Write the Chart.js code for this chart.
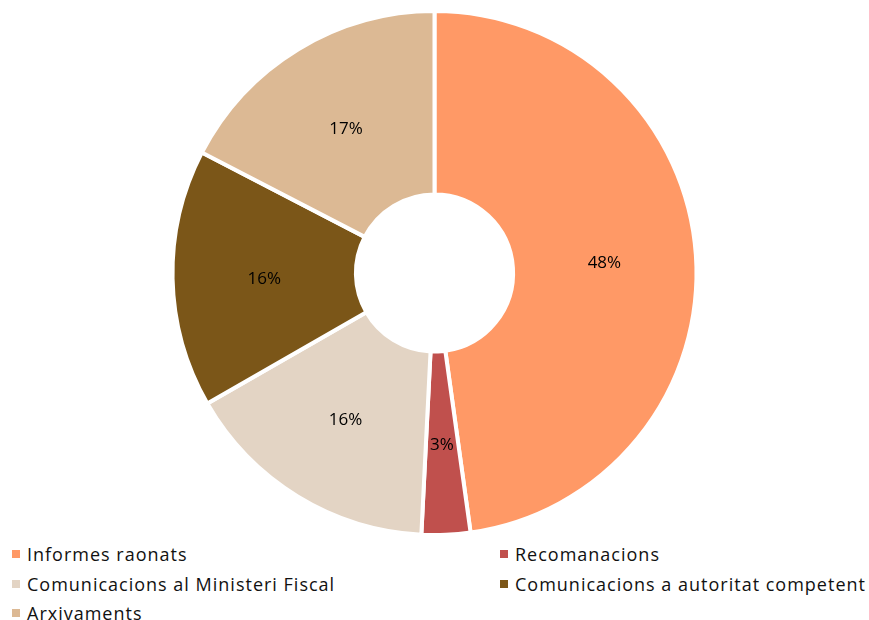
<!DOCTYPE html>
<html>
<head>
<meta charset="utf-8">
<script src="https://cdn.jsdelivr.net/npm/chart.js@4/dist/chart.umd.min.js"></script>
<style>
  html,body{margin:0;padding:0;background:#fff;}
  #wrap{position:relative;width:869px;height:537px;}
  #legend{position:absolute;left:0;top:540px;width:869px;font-family:"Open Sans",sans-serif;font-size:18px;letter-spacing:1px;color:#111;}
  .li{position:absolute;white-space:nowrap;line-height:22px;}
  .sw{display:inline-block;width:8px;height:8px;margin-right:7px;vertical-align:middle;position:relative;top:-2px;}
</style>
</head>
<body>
<div id="wrap"><canvas id="c" width="869" height="537"></canvas></div>
<div id="legend"></div>
<script>
const categories = ["Informes raonats","Recomanacions","Comunicacions al Ministeri Fiscal","Comunicacions a autoritat competent","Arxivaments"];
const values = [47.8, 3.0, 15.9, 15.9, 17.4];
const colors = ["#FF9966","#C0504D","#E3D4C4","#7B5618","#DCB994"];

const labelPlugin = {
  id:'sliceLabels',
  afterDatasetsDraw(chart){
    const ctx = chart.ctx;
    const meta = chart.getDatasetMeta(0);
    ctx.save();
    ctx.font = '17px "Open Sans", sans-serif';
    ctx.fillStyle = '#000';
    ctx.textAlign = 'center';
    ctx.textBaseline = 'middle';
    meta.data.forEach((arc,i)=>{
      const p = arc.tooltipPosition();
      ctx.fillText(Math.round(values[i]) + '%', p.x, p.y + 2);
    });
    ctx.restore();
  }
};

new Chart(document.getElementById('c'),{
  type:'doughnut',
  data:{labels:categories,datasets:[{data:values,backgroundColor:colors,borderColor:'#fff',borderWidth:4}]},
  options:{
    responsive:false,animation:false,
    cutout:'30%',
    layout:{padding:{top:9,bottom:0}},
    plugins:{legend:{display:false},tooltip:{enabled:false}}
  },
  plugins:[labelPlugin]
});

const leg = document.getElementById('legend');
const pos = [[12,3],[500,3],[12,33],[500,33],[12,62]];
categories.forEach((c,i)=>{
  const d = document.createElement('div');
  d.className='li';
  d.style.left = pos[i][0]+'px';
  d.style.top = pos[i][1]+'px';
  d.innerHTML = '<span class="sw" style="background:'+colors[i]+'"></span>'+c;
  leg.appendChild(d);
});
</script>
</body>
</html>
